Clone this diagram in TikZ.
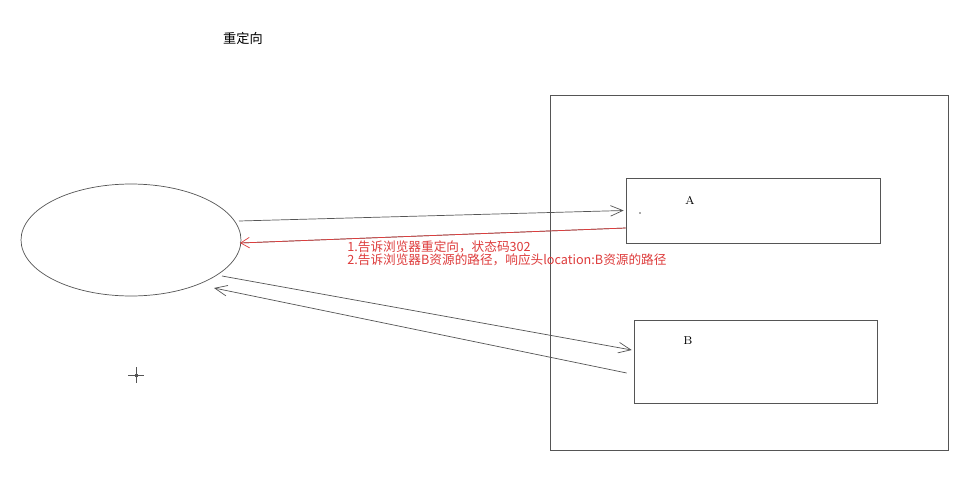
\documentclass[tikz,border=0pt]{standalone}
\usepackage{fontspec}
\newfontfamily\cjk{Noto Sans CJK SC}
\usetikzlibrary{arrows.meta,shapes.geometric}

\definecolor{linegray}{RGB}{85,85,85}
\definecolor{notered}{RGB}{222,60,60}

\begin{document}
\begin{tikzpicture}[x=0.02cm,y=-0.02cm,
  box/.style={draw=linegray,thin,minimum width=#1,inner sep=0pt},
  link/.style={draw=linegray,thin,-{Straight Barb[length=7pt,width=6pt]}},
  redlink/.style={draw=notered,thin,-{Straight Barb[length=5pt,width=6pt]}}]
\useasboundingbox[fill=white] (0,0) rectangle (966,480);

\node[font=\cjk\fontsize{7.5}{9}\selectfont] (title) at (243,38) {重定向};

\node[draw=linegray,thin,ellipse,inner sep=0pt,minimum width=4.4cm,
  minimum height=2.24cm] (browser) at (131,240) {};
\node[box=7.96cm,minimum height=7.1cm] (server) at (749,272.5) {};
\node[box=5.08cm,minimum height=1.3cm] (boxA) at (753,210.5) {};
\node[box=4.86cm,minimum height=1.66cm] (boxB) at (755.5,361.5) {};
\node[font=\fontsize{6.5}{8}\selectfont] (labA) at (690,200) {A};
\node[font=\fontsize{6.5}{8}\selectfont] (labB) at (688,341) {B};

\coordinate (c1) at ([shift={(108,-19)}]browser.center);
\coordinate (c2) at ([shift={(109,3)}]browser.center);
\coordinate (c3) at ([shift={(91,36)}]browser.center);
\coordinate (c4) at ([shift={(83,48)}]browser.center);
\coordinate (aIn) at ([xshift=-0.04cm]boxA.west);
\coordinate (aOut) at ([yshift=-0.35cm]boxA.west);
\coordinate (bIn) at ([xshift=-0.04cm,yshift=0.23cm]boxB.west);
\coordinate (bOut) at ([xshift=-0.14cm,yshift=-0.23cm]boxB.west);

% request / redirect / second request / response
\draw[link] (c1) -- (aIn);
\draw[linegray,thin] (aOut) -- (c2);
\draw[redlink] (aOut) -- (c2);
\draw[link] (c3) -- (bIn);
\draw[link] (bOut) -- (c4);

\node[anchor=north west,align=left,text=notered,inner sep=0pt,
  font=\cjk\fontsize{7.2}{7.9}\selectfont] (note) at (347,240)
  {1.告诉浏览器重定向，状态码302\\2.告诉浏览器B资源的路径，响应头location:B资源的路径};

\fill[linegray] (640,213) circle [radius=0.5pt];
\draw[linegray,thin] (128,375) -- (144,375) (136,367) -- (136,383);
\fill[linegray] (134.5,373.5) rectangle (137.5,376.5);
\end{tikzpicture}
\end{document}
